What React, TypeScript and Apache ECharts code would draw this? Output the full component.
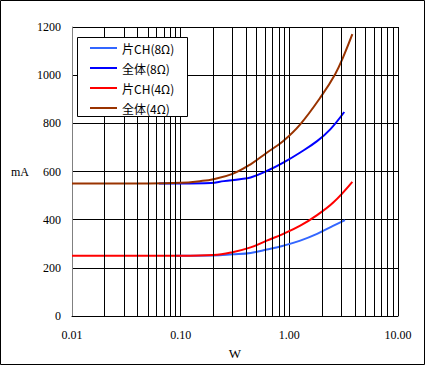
import { useEffect, useRef } from "react";
import * as echarts from "echarts";

const seriesNames = ["片CH(8Ω)", "全体(8Ω)", "片CH(4Ω)", "全体(4Ω)"];
const seriesColors = ["#3366ff", "#0000ff", "#ff0000", "#993300"];

const ch8: [number, number][] = [
  [0.09, 250], [0.2, 251], [0.3, 256], [0.44, 262], [0.62, 276], [0.88, 292],
  [1.26, 313], [1.8, 341], [2.55, 375], [3.25, 398],
];
const total8: [number, number][] = [
  [0.063, 550], [0.1, 550], [0.19, 552], [0.25, 560], [0.35, 568], [0.44, 575],
  [0.62, 602], [0.88, 637], [1.26, 679], [1.8, 726], [2.38, 775], [3.2, 847],
];
const ch4: [number, number][] = [
  [0.01, 250], [0.1, 250], [0.2, 253], [0.3, 265], [0.44, 285], [0.62, 313],
  [0.88, 341], [1.26, 375], [1.8, 419], [2.55, 472], [3.8, 557],
];
const total4: [number, number][] = [
  [0.01, 550], [0.05, 550], [0.1, 553], [0.15, 560], [0.2, 568], [0.3, 590],
  [0.44, 630], [0.62, 678], [0.88, 727], [1.26, 796], [1.99, 916], [2.64, 1004],
  [3.15, 1078], [3.8, 1170],
];
const seriesData = [ch8, total8, ch4, total4];

const xMinorTicks = [
  0.02, 0.03, 0.04, 0.05, 0.06, 0.07, 0.08, 0.09,
  0.2, 0.3, 0.4, 0.5, 0.6, 0.7, 0.8, 0.9,
  2, 3, 4, 5, 6, 7, 8, 9,
];

export default function App() {
  const ref = useRef<HTMLDivElement>(null);
  useEffect(() => {
    document.body.style.margin = "0";
    const chart = echarts.init(ref.current!, null, { renderer: "svg" });
    const serif = "'Liberation Serif', 'Times New Roman', serif";
    chart.setOption({
      animation: false,
      backgroundColor: "#ffffff",
      grid: { left: 72, right: 27, top: 27, bottom: 48 },
      xAxis: {
        type: "log",
        logBase: 10,
        min: 0.01,
        max: 10,
        name: "W",
        nameLocation: "middle",
        nameGap: 31,
        nameTextStyle: { fontFamily: serif, fontSize: 13, color: "#000" },
        axisLine: { show: true, lineStyle: { color: "#000", width: 1 } },
        axisTick: { show: false },
        axisLabel: {
          fontFamily: serif,
          fontSize: 12,
          color: "#000",
          margin: 13,
          showMinLabel: true,
          showMaxLabel: true,
          formatter: (v: number) => v.toFixed(2),
        },
        splitLine: { show: true, lineStyle: { color: "#000", width: 1 } },
      },
      yAxis: {
        type: "value",
        min: 0,
        max: 1200,
        interval: 200,
        name: "mA",
        nameLocation: "middle",
        nameRotate: 0,
        nameGap: 52,
        nameTextStyle: { fontFamily: serif, fontSize: 12, color: "#000", align: "center", verticalAlign: "middle" },
        axisLine: { show: true, lineStyle: { color: "#808080", width: 1 } },
        axisTick: { show: false },
        axisLabel: {
          fontFamily: serif,
          fontSize: 12,
          color: "#000",
          margin: 11,
          formatter: (v: number) => String(v),
        },
        splitLine: { show: true, lineStyle: { color: "#000", width: 1 } },
      },
      legend: {
        data: seriesNames,
        orient: "vertical",
        left: 90,
        top: 41,
        padding: 0,
        itemGap: 6,
        itemWidth: 27,
        itemHeight: 2,
        icon: "rect",
        z: 11,
        textStyle: { fontFamily: "'Noto Sans CJK JP', sans-serif", fontSize: 12, color: "#000", lineHeight: 14 },
      },
      graphic: [
        {
          type: "rect",
          z: 10,
          shape: { x: 77.5, y: 37.5, width: 110, height: 79 },
          style: { fill: "#fff", stroke: "#000", lineWidth: 1 },
        },
        {
          type: "rect",
          z: 20,
          silent: true,
          shape: { x: 0.5, y: 0.5, width: 424, height: 364 },
          style: { fill: "none", stroke: "#000", lineWidth: 1 },
        },
      ],
      series: [
        {
          type: "line",
          name: "minor-grid",
          data: [],
          z: 1,
          silent: true,
          markLine: {
            silent: true,
            symbol: "none",
            label: { show: false },
            lineStyle: { color: "#000", width: 1, type: "solid" },
            emphasis: { disabled: true },
            data: xMinorTicks.map((v) => ({ xAxis: v })),
          },
        },
        ...seriesNames.map((name, i) => ({
          type: "line",
          name,
          data: seriesData[i],
          color: seriesColors[i],
          showSymbol: false,
          smooth: 0.4,
          z: 3,
          lineStyle: { color: seriesColors[i], width: 2 },
        })),
      ],
    });
    return () => chart.dispose();
  }, []);
  return (
    <div
      ref={ref}
      style={{ position: "fixed", left: 0, top: 0, width: 425, height: 365 }}
    />
  );
}
